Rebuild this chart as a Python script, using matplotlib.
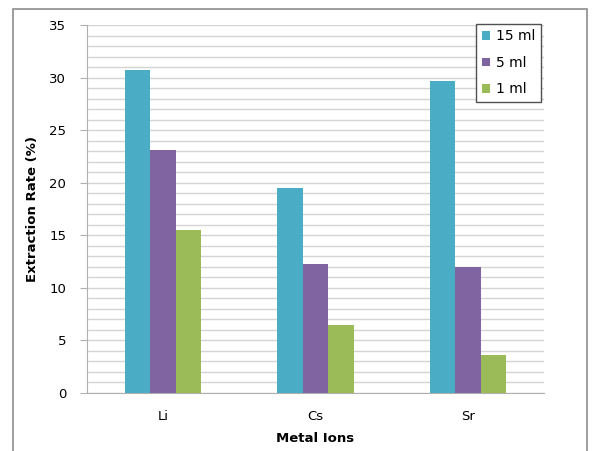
import numpy as np
import matplotlib.pyplot as plt
from matplotlib.patches import Rectangle

ions = ["Li", "Cs", "Sr"]
series = ["15 ml", "5 ml", "1 ml"]
rate_15ml = [30.7, 19.5, 29.7]
rate_5ml = [23.1, 12.3, 12.0]
rate_1ml = [15.5, 6.5, 3.6]
colors = ["#4BACC6", "#8064A2", "#9BBB59"]

fig = plt.figure(figsize=(5.93, 4.51), dpi=100)
ax = fig.add_axes([87 / 593, 1 - 393 / 451, 457 / 593, 368 / 451])

# outer chart border
fig.patches.append(Rectangle((13 / 593, -0.02), 574 / 593, 1.0 - 9 / 451 + 0.02,
                             transform=fig.transFigure, fill=False,
                             edgecolor="#8c8c8c", linewidth=1.2))

x = np.arange(len(ions))
w = 0.167
for i, (vals, lab) in enumerate(zip([rate_15ml, rate_5ml, rate_1ml], series)):
    ax.bar(x + (i - 1) * w, vals, width=w, color=colors[i], label=lab, zorder=3)

ax.set_xlim(-0.5, 2.5)
ax.set_ylim(0, 35)
ax.set_yticks(np.arange(0, 36, 5))
ax.set_yticks(np.arange(0, 36, 1), minor=True)
ax.set_xticks(x)
ax.set_xticklabels(ions)
ax.grid(axis="y", which="both", color="#d4d4d4", linewidth=1, zorder=0)
ax.set_axisbelow(True)

for s in ["top", "right"]:
    ax.spines[s].set_visible(False)
ax.spines["left"].set_color("#b0b0b0")
ax.spines["bottom"].set_color("#b0b0b0")
ax.tick_params(axis="y", which="major", length=5, color="#b0b0b0", labelsize=9.5, pad=10)
ax.tick_params(axis="y", which="minor", length=0)
ax.tick_params(axis="x", length=0, labelsize=9.5, pad=12)

ax.set_ylabel("Extraction Rate (%)", fontsize=9.5, fontweight="bold", labelpad=7)
ax.set_xlabel("Metal Ions", fontsize=9.5, fontweight="bold", labelpad=7)

leg = ax.legend(loc="upper right", bbox_to_anchor=(0.993, 1.003), borderaxespad=0,
                fancybox=False, framealpha=1, edgecolor="#505050", fontsize=10,
                handlelength=0.6, handleheight=0.6, handletextpad=0.4,
                labelspacing=0.9, borderpad=0.4)
leg.get_frame().set_linewidth(1.0)

fig.savefig("out.png", dpi=100)
